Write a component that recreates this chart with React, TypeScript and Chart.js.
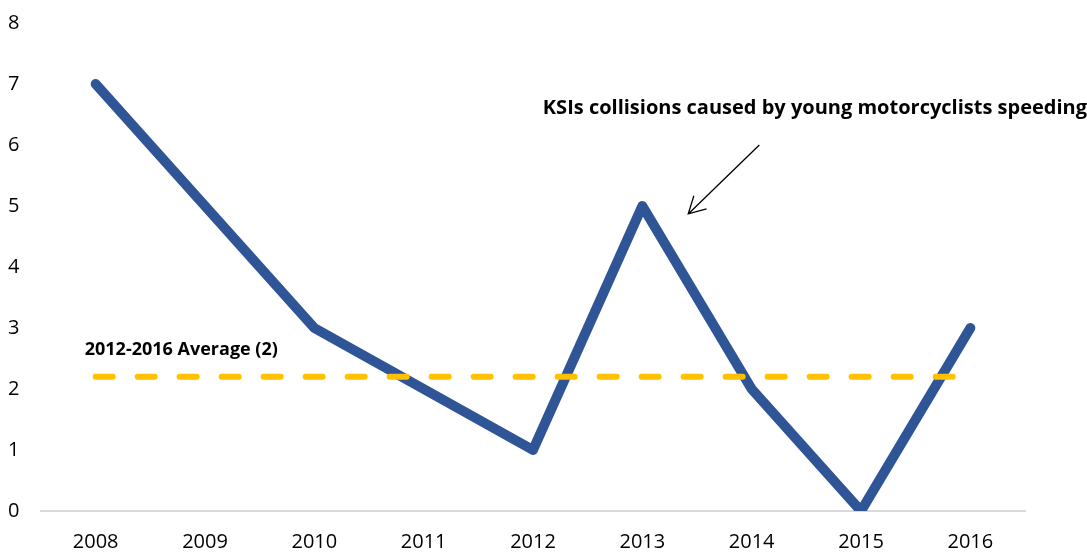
import React, { useEffect, useRef } from "react";
import { Chart, registerables } from "chart.js";

Chart.register(...registerables);

const years = ["2008", "2009", "2010", "2011", "2012", "2013", "2014", "2015", "2016"];
const ksiValues = [7, 5, 3, 2, 1, 5, 2, 0, 3];
const averageValue = 2.2;
const averageValues = years.map(() => averageValue);
const averageLabel = "2012-2016 Average (2)";
const seriesLabel = "KSIs collisions caused by young motorcyclists speeding";

const FONT = "'Open Sans', 'Noto Sans', sans-serif";

const annotationPlugin = {
  id: "annotations",
  afterDatasetsDraw(chart: any) {
    const { ctx, scales } = chart;
    const x = scales.x;
    const y = scales.y;
    const px = (i: number) => x.getPixelForValue(0) + i * (x.getPixelForValue(1) - x.getPixelForValue(0));
    ctx.save();
    ctx.fillStyle = "#000";
    ctx.font = `bold 20px ${FONT}`;
    ctx.textBaseline = "middle";
    ctx.textAlign = "left";
    ctx.fillText(seriesLabel, px(4.09), y.getPixelForValue(6.6));
    ctx.font = `bold 18px ${FONT}`;
    ctx.fillText(averageLabel, px(-0.1), y.getPixelForValue(2.64));
    const x1 = px(6.07), y1 = y.getPixelForValue(6.0);
    const x2 = px(5.42), y2 = y.getPixelForValue(4.87);
    ctx.strokeStyle = "#000";
    ctx.lineWidth = 1.3;
    ctx.beginPath();
    ctx.moveTo(x1, y1);
    ctx.lineTo(x2, y2);
    const ang = Math.atan2(y2 - y1, x2 - x1);
    const len = 19;
    const spread = 0.5;
    ctx.moveTo(x2 - len * Math.cos(ang - spread), y2 - len * Math.sin(ang - spread));
    ctx.lineTo(x2, y2);
    ctx.lineTo(x2 - len * Math.cos(ang + spread), y2 - len * Math.sin(ang + spread));
    ctx.stroke();
    ctx.restore();
  },
};

export default function App() {
  const ref = useRef<HTMLCanvasElement>(null);
  useEffect(() => {
    const chart = new Chart(ref.current as HTMLCanvasElement, {
      type: "line",
      data: {
        labels: years,
        datasets: [
          {
            label: averageLabel,
            data: averageValues,
            borderColor: "#FFC000",
            borderWidth: 6,
            borderDash: [17, 25],
            borderCapStyle: "round",
            pointRadius: 0,
            fill: false,
          },
          {
            label: seriesLabel,
            data: ksiValues,
            borderColor: "#2F5597",
            borderWidth: 10,
            borderCapStyle: "round",
            borderJoinStyle: "round",
            pointRadius: 0,
            tension: 0,
            fill: false,
          },
        ],
      },
      options: {
        animation: false,
        responsive: false,
        maintainAspectRatio: false,
        layout: { padding: { left: 8, right: 62, top: 23, bottom: 0 } },
        plugins: { legend: { display: false }, tooltip: { enabled: false } },
        scales: {
          x: {
            type: "category",
            offset: true,
            grid: { display: false, drawTicks: false },
            border: { display: true, color: "#d9d9d9", width: 2 },
            ticks: { color: "#000", padding: 21, maxRotation: 0, autoSkip: false, font: { family: FONT, size: 20, lineHeight: 1 } },
            afterFit: (s: any) => { s.height = 41; s.paddingLeft = 0; s.paddingRight = 0; },
          },
          y: {
            min: 0,
            max: 8,
            grid: { display: false, drawTicks: false },
            border: { display: false },
            ticks: {
              stepSize: 1,
              color: "#000",
              crossAlign: "far",
              padding: 22,
              font: { family: FONT, size: 20, lineHeight: 1.2 },
            },
            afterFit: (s: any) => { s.width = 33; s.paddingTop = 0; s.paddingBottom = 0; },
          },
        },
      },
      plugins: [annotationPlugin],
    } as any);
    return () => chart.destroy();
  }, []);
  return (
    <div style={{ position: "fixed", left: 0, top: 0, width: 1087, height: 552, background: "#fff" }}>
      <canvas ref={ref} width={1087} height={552} style={{ width: 1087, height: 552 }} />
    </div>
  );
}
